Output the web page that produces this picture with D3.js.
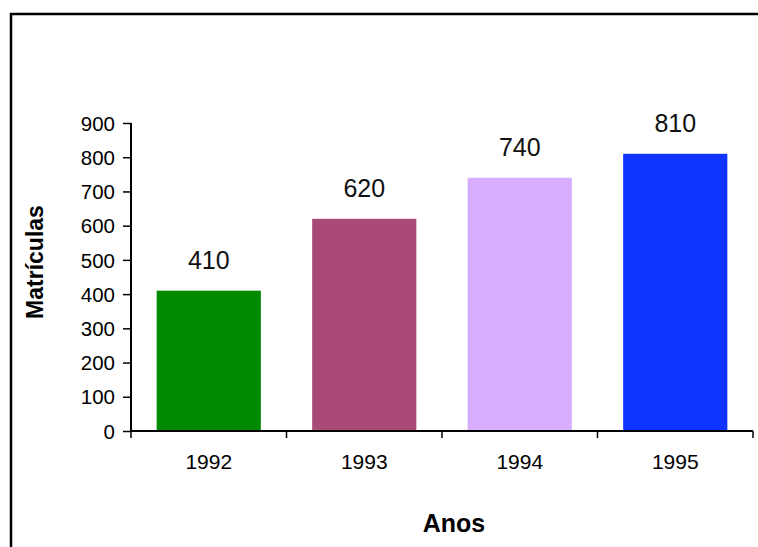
<!DOCTYPE html>
<html lang="pt">
<head>
<meta charset="UTF-8">
<title>Matrículas</title>
<script src="https://d3js.org/d3.v7.min.js"></script>
<style>
  body { margin: 0; background: #fff; }
  svg { display: block; font-family: "Liberation Sans", Arial, sans-serif; }
</style>
</head>
<body>
<svg width="758" height="547"></svg>
<script>
const years = ["1992", "1993", "1994", "1995"];
const matriculas = [410, 620, 740, 810];
const barColors = ["#008a00", "#a94a76", "#d7aeff", "#1034ff"];
const yTicks = [0, 100, 200, 300, 400, 500, 600, 700, 800, 900];

const svg = d3.select("svg");

// moldura (continua para fora da imagem à direita e em baixo)
svg.append("rect")
    .attr("x", 11).attr("y", 14)
    .attr("width", 800).attr("height", 600)
    .attr("fill", "none")
    .attr("stroke", "#000")
    .attr("stroke-width", 2.5);

const x = d3.scaleBand()
    .domain(years)
    .range([131, 753])
    .paddingInner(0.33)
    .paddingOuter(0.165);

const y = d3.scaleLinear()
    .domain([0, 900])
    .range([431, 123]);

// barras
svg.selectAll("rect.bar")
    .data(matriculas)
    .enter()
    .append("rect")
    .attr("class", "bar")
    .attr("x", (d, i) => x(years[i]))
    .attr("y", d => y(d))
    .attr("width", x.bandwidth())
    .attr("height", d => y(0) - y(d))
    .attr("fill", (d, i) => barColors[i]);

// rótulos de valor
svg.selectAll("text.val")
    .data(matriculas)
    .enter()
    .append("text")
    .attr("class", "val")
    .attr("x", (d, i) => x(years[i]) + x.bandwidth() / 2)
    .attr("y", d => y(d) - 22)
    .attr("text-anchor", "middle")
    .attr("font-size", 25)
    .attr("fill", "#111")
    .text(d => d);

// eixo y
const yAxis = svg.append("g")
    .attr("transform", "translate(131,0)")
    .call(d3.axisLeft(y).tickValues(yTicks).tickSize(8).tickPadding(8));
yAxis.select(".domain").attr("stroke", "#000").attr("stroke-width", 2).attr("d", "M0," + y(900) + "V" + y(0));
yAxis.selectAll(".tick line").attr("stroke-width", 1.5);
yAxis.selectAll("text").attr("font-size", 20.5).attr("fill", "#000").attr("dy", "0.35em");

// eixo x: marcas nos limites das categorias
const xg = svg.append("g");
xg.append("line")
    .attr("x1", 131).attr("x2", 753)
    .attr("y1", y(0)).attr("y2", y(0))
    .attr("stroke", "#000").attr("stroke-width", 2);
const bounds = years.map(d => x(d) - x.step() * x.paddingInner() / 2).concat([753]);
xg.selectAll("line.tk")
    .data(bounds)
    .enter()
    .append("line")
    .attr("class", "tk")
    .attr("x1", d => d).attr("x2", d => d)
    .attr("y1", y(0)).attr("y2", y(0) + 7)
    .attr("stroke", "#000").attr("stroke-width", 1.5);
xg.selectAll("text")
    .data(years)
    .enter()
    .append("text")
    .attr("x", d => x(d) + x.bandwidth() / 2)
    .attr("y", 469)
    .attr("text-anchor", "middle")
    .attr("font-size", 21)
    .attr("fill", "#000")
    .text(d => d);

// títulos dos eixos
svg.append("text")
    .attr("x", 454).attr("y", 532)
    .attr("text-anchor", "middle")
    .attr("font-size", 25)
    .attr("font-weight", "bold")
    .text("Anos");

svg.append("text")
    .attr("transform", "translate(43,262) rotate(-90)")
    .attr("text-anchor", "middle")
    .attr("font-size", 23)
    .attr("font-weight", "bold")
    .text("Matrículas");
</script>
</body>
</html>
